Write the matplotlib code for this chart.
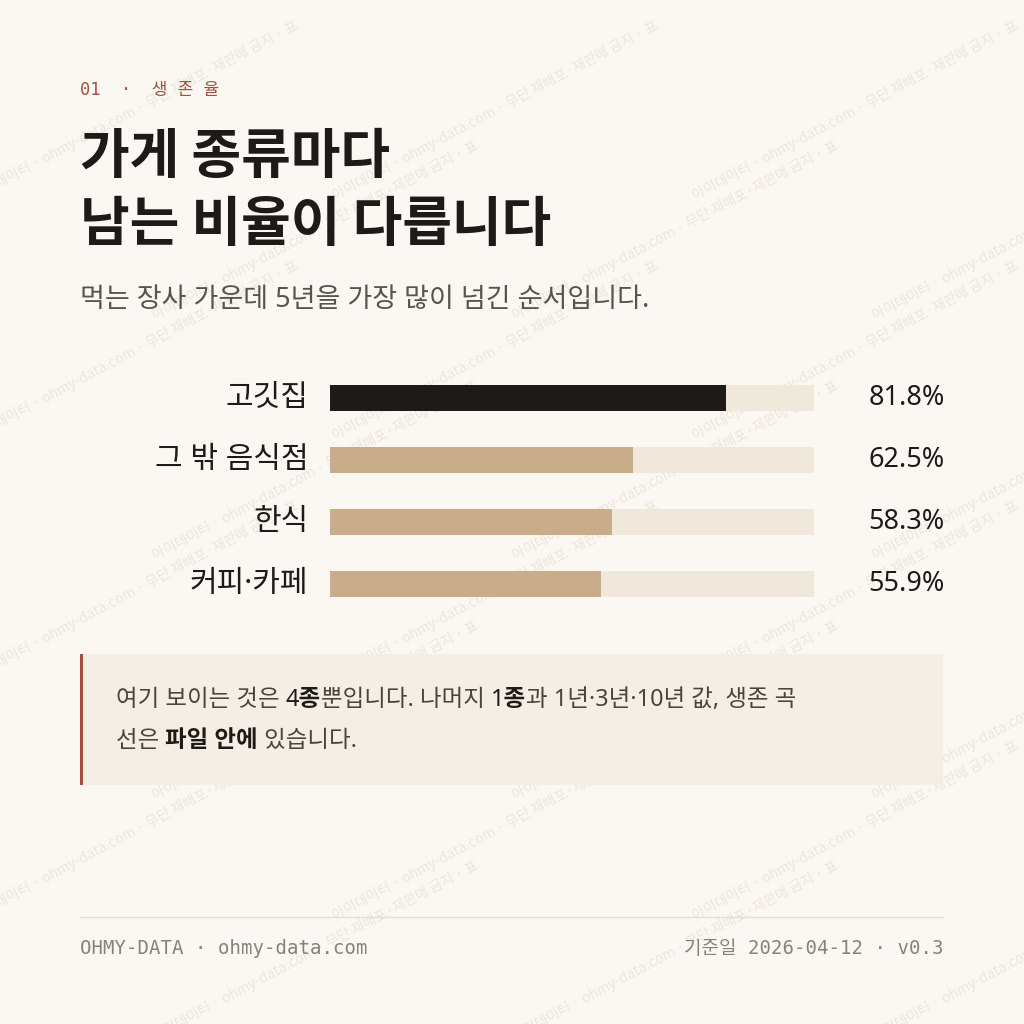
import matplotlib
matplotlib.use("Agg")
import matplotlib.pyplot as plt
from matplotlib.patches import Rectangle

categories = ["고깃집", "그 밖 음식점", "한식", "커피·카페"]
values = [81.8, 62.5, 58.3, 55.9]
value_labels = ["81.8%", "62.5%", "58.3%", "55.9%"]

KR = ["Noto Sans CJK KR", "DejaVu Sans"]
KR2 = ["Noto Sans", "Noto Sans CJK KR", "DejaVu Sans"]
MONO = ["DejaVu Sans Mono", "Noto Sans CJK KR"]
BG = "#fbf8f3"
W = H = 1024.0

fig = plt.figure(figsize=(10.24, 10.24), dpi=100, facecolor=BG)
bgax = fig.add_axes([0, 0, 1, 1])
bgax.set_xlim(0, W); bgax.set_ylim(H, 0); bgax.axis("off")

def px(s):
    return s * 0.72

# watermark
wm = "아이데이터 · ohmy-data.com · 무단 재배포·재판매 금지 · 표"
for row in range(0, 8):
    for col in range(0, 3):
        x = col * 360 + (row % 2) * 180 - 30
        y = row * 120 + 110
        bgax.text(x, y, wm, rotation=28, fontsize=px(14), family=KR, color="#e9e3da",
                  ha="left", va="center", zorder=0, alpha=0.9, clip_on=True)

bgax.text(80, 90, "01  ·  생 존 율", family=MONO, fontsize=px(17), color="#a6503a",
          va="center")
bgax.text(80, 158, "가게 종류마다", family=KR, fontsize=px(54), weight="bold",
          color="#1e1a17", va="center")
bgax.text(80, 225, "남는 비율이 다릅니다", family=KR, fontsize=px(54), weight="bold",
          color="#1e1a17", va="center")
bgax.text(80, 300, "먹는 장사 가운데 5년을 가장 많이 넘긴 순서입니다.", family=KR2,
          fontsize=px(27), color="#5a534c", va="center")

# note box
bgax.add_patch(Rectangle((80, 654), 863, 131, facecolor="#f4eee5", edgecolor="none", zorder=1))
bgax.add_patch(Rectangle((80, 654), 3, 131, facecolor="#a6503a", edgecolor="none", zorder=2))
fig.canvas.draw()
r = fig.canvas.get_renderer()
def rich(x, y, parts):
    for txt, bold in parts:
        t = bgax.text(x, y, txt, family=KR2, fontsize=px(23.5), color="#1e1a17" if bold else "#4a443e",
                      weight="bold" if bold else "normal", va="center", zorder=3)
        bb = t.get_window_extent(renderer=r)
        x += bb.width
rich(116, 700, [("여기 보이는 것은 ", False), ("4종", True), ("뿐입니다. 나머지 ", False),
                ("1종", True), ("과 1년·3년·10년 값, 생존 곡", False)])
rich(116, 741, [("선은 ", False), ("파일 안에", True), (" 있습니다.", False)])

# footer
bgax.plot([80, 943], [917, 917], color="#e4ddd3", lw=1)
bgax.text(80, 948, "OHMY-DATA · ohmy-data.com", family=MONO, fontsize=px(19),
          color="#8a8178", va="center")
bgax.text(943, 948, "기준일 2026-04-12 · v0.3", family=MONO, fontsize=px(19),
          color="#8a8178", va="center", ha="right")

# bars
top, bottom = 367, 615
ax = fig.add_axes([330 / W, 1 - bottom / H, (814 - 330) / W, (bottom - top) / H])
ax.set_facecolor("none")
ax.set_xlim(0, 100); ax.set_ylim(3.5, -0.5); ax.axis("off")
ypos = list(range(len(categories)))
ax.barh(ypos, [100] * len(values), height=0.42, color="#f1e8dc", zorder=1)
colors = ["#1e1a17"] + ["#c9ac8a"] * (len(values) - 1)
ax.barh(ypos, values, height=0.42, color=colors, zorder=2)
for i, (c, v) in enumerate(zip(categories, value_labels)):
    ax.text(-4.5, i, c, family=KR2, fontsize=px(30), color="#1e1a17", ha="right", va="center")
    ax.text(127.0, i, v, family=KR2, fontsize=px(27), weight="bold", color="#1e1a17",
            ha="right", va="center")

fig.savefig("out.png", dpi=100, facecolor=BG)
